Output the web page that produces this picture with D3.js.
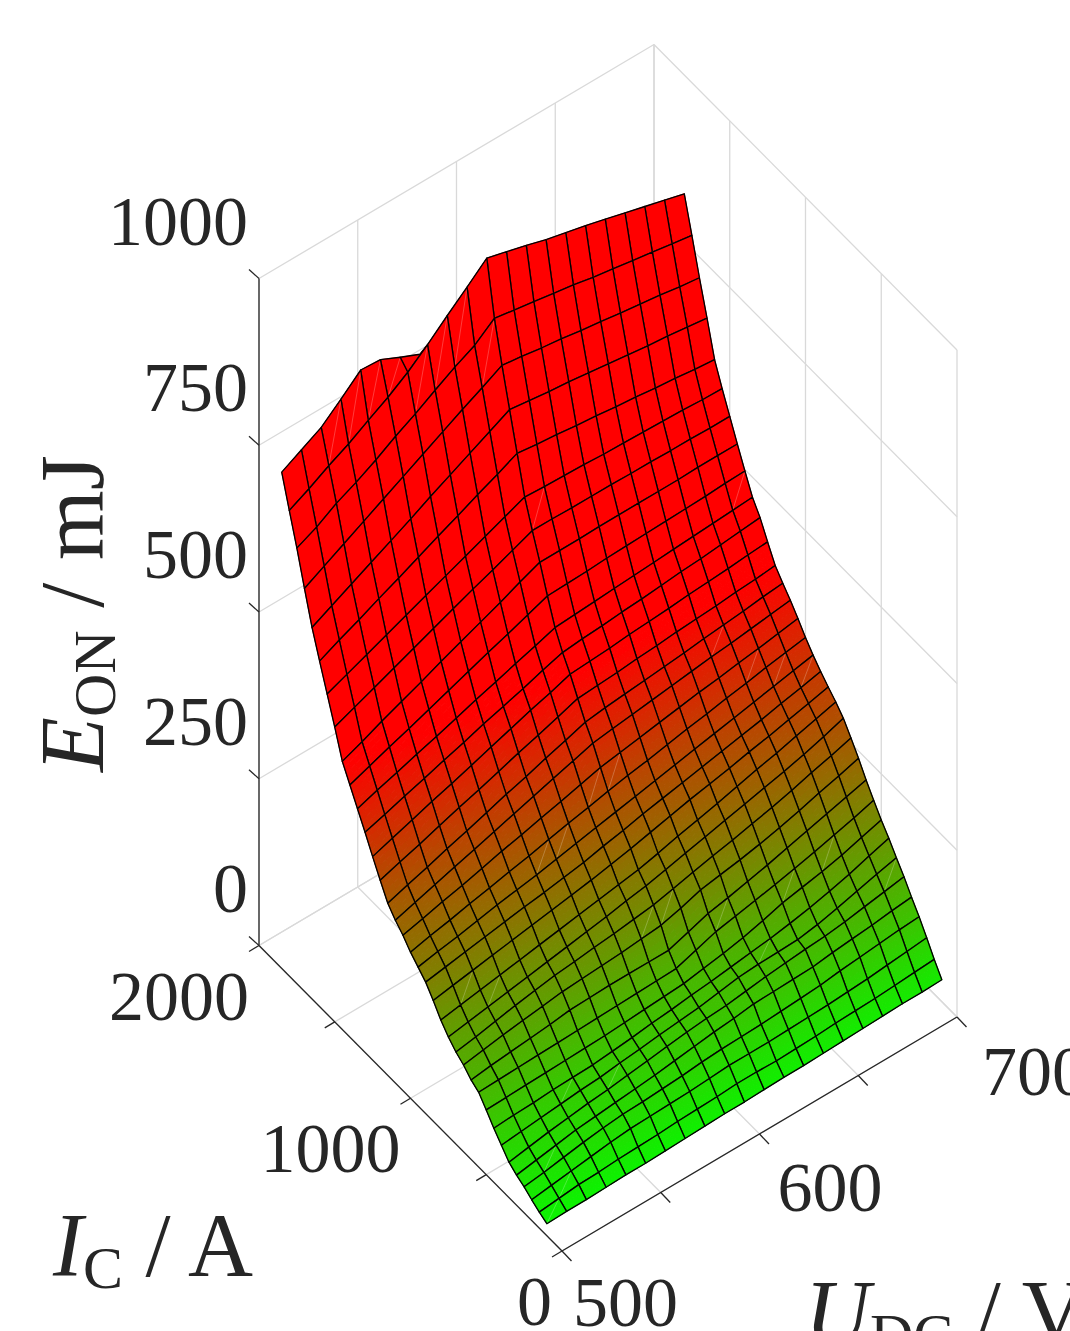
<!DOCTYPE html>
<html>
<head>
<meta charset="utf-8">
<script src="https://cdn.jsdelivr.net/npm/d3@7"></script>
<style>
    body { margin: 0; background: white; overflow: hidden; }
    text { font-family: "Liberation Serif", serif; fill: #262626; }
</style>
</head>
<body>
<div id="container"></div>
<script>
const uTicks = [500, 550, 600, 650, 700];
const iTicks = [0, 500, 1000, 1500, 2000];
const eTicks = [0, 250, 500, 750, 1000];
const uLabels = [500, 600, 700];
const iLabels = [0, 1000, 2000];

const uValues = [500, 510, 520, 530, 540, 550, 560, 570, 580, 590, 600, 610, 620, 630, 640, 650, 660, 670, 680, 690, 700];
const iValues = [100, 150, 200, 250, 300, 350, 400, 450, 500, 550, 600, 650, 700, 750, 800, 850, 900, 950, 1000, 1050, 1100, 1150, 1200, 1250, 1300, 1350, 1400, 1450, 1500, 1550, 1600, 1650, 1700, 1750, 1800, 1850];

// switch-on energy in mJ, one row per current, one column per voltage
const eOn = [
    [18, 19, 19, 20, 21, 21, 22, 23, 24, 25, 25, 26, 27, 27, 28, 29, 30, 31, 32, 32, 33],
    [24, 27, 30, 31, 33, 34, 35, 37, 38, 39, 41, 41, 40, 41, 42, 44, 45, 46, 48, 50, 52],
    [31, 35, 39, 43, 47, 50, 51, 52, 53, 55, 57, 57, 57, 58, 59, 60, 62, 64, 67, 70, 73],
    [39, 43, 48, 53, 57, 60, 61, 63, 65, 68, 70, 71, 72, 74, 76, 78, 82, 85, 88, 91, 93],
    [45, 50, 55, 60, 63, 66, 69, 72, 76, 80, 84, 87, 91, 92, 93, 94, 98, 101, 104, 108, 111],
    [53, 58, 63, 67, 71, 74, 78, 82, 86, 90, 93, 95, 99, 103, 106, 109, 111, 115, 120, 125, 130],
    [67, 70, 73, 76, 79, 81, 85, 88, 92, 95, 98, 103, 108, 110, 111, 112, 117, 124, 132, 140, 147],
    [81, 83, 84, 86, 87, 88, 91, 94, 98, 101, 105, 108, 112, 116, 120, 125, 131, 138, 146, 156, 165],
    [97, 98, 99, 100, 101, 102, 103, 105, 107, 109, 111, 116, 121, 127, 135, 144, 150, 156, 163, 172, 181],
    [112, 113, 114, 115, 116, 117, 118, 119, 120, 121, 122, 132, 142, 148, 154, 160, 167, 174, 182, 190, 199],
    [119, 123, 126, 129, 132, 136, 137, 138, 138, 138, 138, 148, 158, 164, 171, 178, 186, 194, 202, 210, 218],
    [130, 135, 140, 144, 148, 152, 154, 156, 158, 161, 164, 172, 182, 187, 192, 198, 205, 213, 222, 230, 239],
    [138, 143, 149, 155, 160, 165, 168, 172, 175, 179, 183, 190, 197, 204, 210, 217, 224, 232, 241, 249, 258],
    [149, 154, 159, 164, 169, 174, 179, 184, 189, 195, 200, 207, 214, 221, 228, 235, 242, 249, 257, 266, 276],
    [163, 168, 173, 178, 183, 188, 193, 198, 203, 208, 213, 220, 228, 235, 242, 250, 258, 265, 273, 281, 289],
    [181, 186, 191, 196, 201, 206, 211, 216, 221, 227, 233, 240, 247, 254, 260, 266, 273, 279, 286, 293, 300],
    [197, 202, 207, 212, 217, 222, 226, 231, 236, 243, 249, 256, 262, 268, 274, 280, 286, 292, 299, 305, 312],
    [208, 214, 219, 225, 231, 236, 241, 247, 253, 259, 265, 271, 277, 283, 289, 295, 301, 307, 313, 319, 325],
    [219, 226, 232, 239, 245, 252, 258, 265, 272, 278, 285, 291, 296, 302, 308, 313, 319, 324, 330, 335, 340],
    [233, 240, 248, 255, 263, 271, 278, 286, 293, 301, 309, 314, 319, 324, 329, 334, 338, 343, 347, 352, 357],
    [244, 253, 262, 271, 280, 289, 298, 307, 316, 325, 334, 338, 342, 346, 350, 354, 358, 361, 365, 369, 373],
    [258, 268, 277, 287, 296, 306, 316, 325, 335, 344, 354, 358, 361, 364, 367, 370, 374, 377, 380, 384, 387],
    [281, 291, 300, 310, 320, 329, 339, 349, 358, 368, 378, 380, 382, 385, 387, 390, 392, 394, 397, 399, 402],
    [305, 315, 325, 335, 344, 354, 364, 374, 384, 393, 403, 405, 407, 410, 412, 414, 417, 419, 421, 424, 426],
    [330, 339, 349, 358, 368, 377, 387, 396, 405, 415, 424, 427, 429, 432, 434, 437, 440, 442, 445, 448, 451],
    [354, 364, 373, 383, 392, 402, 412, 421, 431, 440, 450, 452, 454, 456, 458, 460, 462, 464, 466, 468, 470],
    [378, 389, 400, 410, 421, 432, 443, 454, 464, 475, 486, 487, 488, 490, 491, 492, 493, 494, 495, 497, 498],
    [402, 414, 427, 439, 451, 464, 476, 488, 500, 513, 525, 525, 525, 526, 526, 526, 526, 526, 527, 527, 527],
    [442, 454, 466, 478, 490, 502, 514, 526, 537, 549, 561, 561, 560, 560, 560, 559, 559, 558, 558, 557, 557],
    [480, 492, 504, 516, 528, 540, 552, 564, 576, 588, 600, 598, 597, 596, 594, 593, 592, 591, 590, 588, 587],
    [518, 532, 545, 559, 572, 586, 600, 613, 627, 640, 654, 650, 647, 643, 640, 636, 633, 629, 626, 622, 619],
    [557, 572, 587, 602, 617, 632, 648, 663, 678, 693, 708, 704, 700, 697, 693, 689, 685, 681, 678, 674, 670],
    [604, 620, 636, 652, 668, 684, 700, 716, 732, 747, 763, 759, 754, 750, 745, 741, 736, 732, 728, 723, 719],
    [653, 667, 685, 699, 715, 733, 749, 767, 784, 799, 822, 817, 812, 807, 802, 796, 791, 786, 781, 776, 771],
    [698, 713, 730, 745, 763, 780, 800, 824, 850, 875, 901, 893, 885, 876, 869, 862, 854, 846, 838, 830, 822],
    [744, 760, 776, 801, 827, 825, 811, 798, null, null, null, null, null, null, null, null, null, null, null, null, null]
];

// cells [row, col] that show a faint light diagonal in the picture
const seamCells = [
    [34, 2], [34, 3], [34, 4], [34, 5], [33, 6], [33, 7], [33, 8], [32, 9], [28, 10], [25, 19],
    [20, 16], [18, 17], [17, 18], [16, 19], [17, 6], [17, 7], [18, 9], [18, 10], [8, 17], [8, 15],
    [9, 12], [11, 9], [11, 10], [13, 2], [14, 1], [6, 3], [5, 5], [3, 1], [0, 0], [1, 1], [5, 19], [6, 13]
];

function main() {

    const width = 1070;
    const height = 1331;

    const svg = d3.select("#container")
        .append("svg")
        .attr("width", width)
        .attr("height", height);

    // oblique view of the box: each data axis adds its own screen offset
    const xFromU = d3.scaleLinear().domain([500, 700]).range([0, 395]);
    const yFromU = d3.scaleLinear().domain([500, 700]).range([0, -234]);
    const xFromI = d3.scaleLinear().domain([0, 2000]).range([562, 259]);
    const yFromI = d3.scaleLinear().domain([0, 2000]).range([1251, 945.5]);
    const yFromE = d3.scaleLinear().domain([0, 1000]).range([0, -667]);

    const colorScale = d3.scaleLinear()
        .domain([0, 400])
        .range(["#00ff00", "#ff0000"])
        .clamp(true);

    function project(u, i, e) {
        return [xFromU(u) + xFromI(i), yFromU(u) + yFromI(i) + yFromE(e)];
    }

    const line = d3.line();
    const closedLine = pts => line(pts) + "Z";

    // grid on floor and the two back walls
    const gridSegments = [];
    uTicks.forEach(u => {
        gridSegments.push([project(u, 0, 0), project(u, 2000, 0)]);
        gridSegments.push([project(u, 2000, 0), project(u, 2000, 1000)]);
    });
    iTicks.forEach(i => {
        gridSegments.push([project(500, i, 0), project(700, i, 0)]);
        gridSegments.push([project(700, i, 0), project(700, i, 1000)]);
    });
    eTicks.forEach(e => {
        gridSegments.push([project(500, 2000, e), project(700, 2000, e)]);
        gridSegments.push([project(700, 2000, e), project(700, 0, e)]);
    });

    svg.append("g")
        .selectAll("path")
        .data(gridSegments)
        .join("path")
        .attr("d", line)
        .attr("fill", "none")
        .attr("stroke", "#d9d9d9")
        .attr("stroke-width", 1.3);

    // axes and ticks
    const axisSegments = [
        [project(500, 0, 0), project(700, 0, 0)],
        [project(500, 0, 0), project(500, 2000, 0)],
        [project(500, 2000, 0), project(500, 2000, 1000)]
    ];
    const offset = (p, dx, dy) => [p, [p[0] + dx, p[1] + dy]];
    uTicks.forEach(u => axisSegments.push(offset(project(u, 0, 0), 9.5, 10)));
    iTicks.forEach(i => axisSegments.push(offset(project(500, i, 0), -10, 6)));
    eTicks.forEach(e => axisSegments.push(offset(project(500, 2000, e), -10, -9)));

    svg.append("g")
        .selectAll("path")
        .data(axisSegments)
        .join("path")
        .attr("d", line)
        .attr("fill", "none")
        .attr("stroke", "#262626")
        .attr("stroke-width", 1.3);

    // surface, painted from the far corner towards the viewer
    const surface = svg.append("g");
    const steps = 4;

    for (let r = iValues.length - 2; r >= 0; r--) {
        for (let c = uValues.length - 2; c >= 0; c--) {
            const e00 = eOn[r][c], e01 = eOn[r][c + 1], e10 = eOn[r + 1][c], e11 = eOn[r + 1][c + 1];
            if (e00 === null || e01 === null || e10 === null || e11 === null) continue;

            const u0 = uValues[c], u1 = uValues[c + 1], i0 = iValues[r], i1 = iValues[r + 1];
            const energyAt = (s, t) => (1 - s) * (1 - t) * e00 + s * (1 - t) * e01 + (1 - s) * t * e10 + s * t * e11;
            const pointAt = (s, t) => project(u0 + s * (u1 - u0), i0 + t * (i1 - i0), energyAt(s, t));

            const patches = [];
            const n = Math.min(e00, e01, e10, e11) >= 400 ? 1 : steps;
            for (let a = 0; a < n; a++) {
                for (let b = 0; b < n; b++) {
                    const s0 = a / n, s1 = (a + 1) / n, t0 = b / n, t1 = (b + 1) / n;
                    patches.push({
                        pts: [pointAt(s0, t0), pointAt(s1, t0), pointAt(s1, t1), pointAt(s0, t1)],
                        color: colorScale(energyAt((s0 + s1) / 2, (t0 + t1) / 2))
                    });
                }
            }

            const cell = surface.append("g");
            cell.selectAll("path")
                .data(patches)
                .join("path")
                .attr("d", d => closedLine(d.pts))
                .attr("fill", d => d.color)
                .attr("stroke", d => d.color)
                .attr("stroke-width", 1);

            if (seamCells.some(d => d[0] === r && d[1] === c)) {
                cell.append("path")
                    .attr("d", line([pointAt(0, 0), pointAt(1, 1)]))
                    .attr("stroke", "#ffffff")
                    .attr("stroke-opacity", 0.4)
                    .attr("stroke-width", 0.6)
                    .attr("fill", "none");
            }

            cell.append("path")
                .attr("d", closedLine([pointAt(0, 0), pointAt(1, 0), pointAt(1, 1), pointAt(0, 1)]))
                .attr("fill", "none")
                .attr("stroke", "black")
                .attr("stroke-width", 1.35)
                .attr("stroke-linejoin", "round");
        }
    }

    // tick labels
    const tickFont = 70;

    svg.append("g")
        .selectAll("text")
        .data(eTicks)
        .join("text")
        .attr("x", 248)
        .attr("y", d => project(500, 2000, d)[1] - 34)
        .attr("text-anchor", "end")
        .attr("font-size", tickFont)
        .text(d => d);

    svg.append("g")
        .selectAll("text")
        .data(iLabels)
        .join("text")
        .attr("x", d => project(500, d, 0)[0] - 10)
        .attr("y", d => project(500, d, 0)[1] + 74)
        .attr("text-anchor", "end")
        .attr("font-size", tickFont)
        .text(d => d);

    svg.append("g")
        .selectAll("text")
        .data(uLabels)
        .join("text")
        .attr("x", d => project(d, 0, 0)[0] + 11 + (d - 500) * 0.07)
        .attr("y", d => project(d, 0, 0)[1] + 75 + (d - 500) * 0.015)
        .attr("font-size", tickFont)
        .text(d => d);

    // axis titles
    const titleFont = 90;
    const subFont = 60;

    function writeTitle(node, parts) {
        parts.forEach(p => {
            node.append("tspan")
                .attr("font-size", p.sub ? subFont : titleFont)
                .attr("baseline-shift", p.sub ? "-12" : null)
                .attr("font-style", p.italic ? "italic" : "normal")
                .text(p.text);
        });
    }

    writeTitle(svg.append("text").attr("x", 53).attr("y", 1276).style("white-space", "pre"), [
        { text: "I", italic: true },
        { text: "C", sub: true },
        { text: " / A" }
    ]);

    writeTitle(svg.append("text").attr("x", 805).attr("y", 1343).style("white-space", "pre"), [
        { text: "U", italic: true },
        { text: "DC", sub: true },
        { text: " / V" }
    ]);

    writeTitle(svg.append("text").attr("transform", "translate(103,772) rotate(-90)").style("white-space", "pre"), [
        { text: "E", italic: true },
        { text: "ON", sub: true },
        { text: " / mJ" }
    ]);
}

main();
</script>
</body>
</html>
